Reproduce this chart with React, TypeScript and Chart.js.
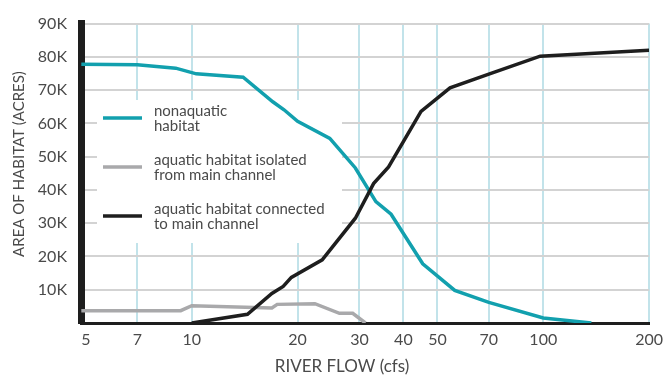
import React, { useEffect, useRef } from "react";
import { Chart, registerables } from "chart.js";

Chart.register(...registerables);

// ---- data ----
const flowTicks = [5, 7, 10, 20, 30, 40, 50, 70, 100, 200];
const areaTicks = [0, 10000, 20000, 30000, 40000, 50000, 60000, 70000, 80000, 90000];

const nonaquaticFlow = [4.85, 7, 9, 10.3, 14, 17, 18.3, 20, 24.7, 29.2, 33.4, 36.9, 45.4, 56, 70, 100, 137];
const nonaquaticArea = [77800, 77600, 76600, 74900, 73900, 66500, 64100, 60600, 55500, 46600, 36500, 32700, 17800, 9800, 6200, 1500, 0];

const isolatedFlow = [4.85, 9.3, 10, 16.9, 17.5, 22.4, 26.3, 28.7, 31.2];
const isolatedArea = [3700, 3700, 5200, 4500, 5600, 5800, 2900, 2900, 0];

const connectedFlow = [10, 14.4, 16.9, 18.2, 19.2, 23.5, 29.2, 32.9, 36.3, 44.9, 54.3, 70, 98, 200];
const connectedArea = [0, 2600, 8900, 11000, 13700, 19000, 31500, 41900, 46900, 63600, 70700, 74800, 80200, 82000];

const seriesLabels = [
  ["nonaquatic", "habitat"],
  ["aquatic habitat isolated", "from main channel"],
  ["aquatic habitat connected", "to main channel"],
];
const seriesColors = ["#12a0ae", "#a9a9ab", "#1e1e1e"];

const xTitle = "RIVER FLOW (cfs)";
const yTitle = "AREA OF HABITAT (ACRES)";

const FONT = "Lato, 'Open Sans', sans-serif";
const TEXT = "#4a4a4a";

const zip = (xs: number[], ys: number[]) => xs.map((x, i) => ({ x, y: ys[i] }));

const legendPlugin = {
  id: "boxLegend",
  beforeDatasetsDraw(chart: any) {
    const ctx = chart.ctx;
    ctx.save();
    ctx.fillStyle = "#ffffff";
    ctx.fillRect(97, 100, 245, 143);
    const rowY = [118, 167, 216];
    seriesLabels.forEach((lines, i) => {
      ctx.strokeStyle = seriesColors[i];
      ctx.lineWidth = 3.5;
      ctx.beginPath();
      ctx.moveTo(103, rowY[i]);
      ctx.lineTo(142, rowY[i]);
      ctx.stroke();
      ctx.fillStyle = TEXT;
      ctx.font = `15px ${FONT}`;
      ctx.textBaseline = "alphabetic";
      ctx.textAlign = "left";
      ctx.fillText(lines[0], 154, rowY[i] - 2);
      ctx.fillText(lines[1], 154, rowY[i] + 13);
    });
    ctx.restore();
  },
  afterDraw(chart: any) {
    const ctx = chart.ctx;
    ctx.save();
    ctx.fillStyle = TEXT;
    ctx.textAlign = "center";
    ctx.textBaseline = "middle";
    ctx.font = `17px ${FONT}`;
    ctx.fillText(xTitle, 342, 367);
    ctx.font = `15px ${FONT}`;
    ctx.translate(19, 164);
    ctx.rotate(-Math.PI / 2);
    ctx.fillText(yTitle, 0, 0);
    ctx.restore();
  },
};

export default function App() {
  const ref = useRef<HTMLCanvasElement | null>(null);

  useEffect(() => {
    if (!ref.current) return;
    const chart = new Chart(ref.current, {
      type: "line",
      data: {
        datasets: [
          { label: seriesLabels[0].join(" "), data: zip(nonaquaticFlow, nonaquaticArea), borderColor: seriesColors[0], borderWidth: 3.5, pointRadius: 0, tension: 0, order: 2 },
          { label: seriesLabels[1].join(" "), data: zip(isolatedFlow, isolatedArea), borderColor: seriesColors[1], borderWidth: 3.5, pointRadius: 0, tension: 0, order: 3 },
          { label: seriesLabels[2].join(" "), data: zip(connectedFlow, connectedArea), borderColor: seriesColors[2], borderWidth: 3.5, pointRadius: 0, tension: 0, order: 1 },
        ],
      },
      options: {
        responsive: false,
        animation: false,
        layout: { padding: { left: 0, right: 15, top: 20, bottom: 0 } },
        plugins: { legend: { display: false }, tooltip: { enabled: false } },
        scales: {
          x: {
            type: "logarithmic",
            min: 4.84,
            max: 200,
            afterBuildTicks: (scale: any) => {
              scale.ticks = flowTicks.map((v) => ({ value: v }));
            },
            afterFit: (scale: any) => {
              scale.height = 52;
            },
            ticks: {
              autoSkip: false,
              maxRotation: 0,
              padding: 7,
              color: TEXT,
              font: { family: FONT, size: 16 },
              callback: (v: any) => String(v),
            },
            grid: {
              drawTicks: false,
              lineWidth: 2,
              color: (c: any) => (c.tick && c.tick.value === 5 ? "rgba(0,0,0,0)" : "#c2e3ea"),
            },
            border: { color: "#1e1e1e", width: 3 },
          },
          y: {
            min: 0,
            max: 90000,
            afterBuildTicks: (scale: any) => {
              scale.ticks = areaTicks.map((v) => ({ value: v }));
            },
            afterFit: (scale: any) => {
              scale.width = 81;
            },
            ticks: {
              padding: 14,
              color: TEXT,
              font: { family: FONT, size: 16 },
              callback: (v: any) => (v === 0 ? "" : `${v / 1000}K`),
            },
            grid: {
              drawTicks: false,
              lineWidth: 2,
              color: (c: any) => (c.tick && c.tick.value === 0 ? "rgba(0,0,0,0)" : "#d3d3d3"),
            },
            border: { color: "#1e1e1e", width: 7 },
          },
        },
      },
      plugins: [legendPlugin],
    });
    return () => chart.destroy();
  }, []);

  return (
    <div style={{ position: "fixed", left: 0, top: 0, width: 670, height: 375, background: "#fff" }}>
      <canvas ref={ref} width={670} height={375} style={{ display: "block" }} />
    </div>
  );
}
